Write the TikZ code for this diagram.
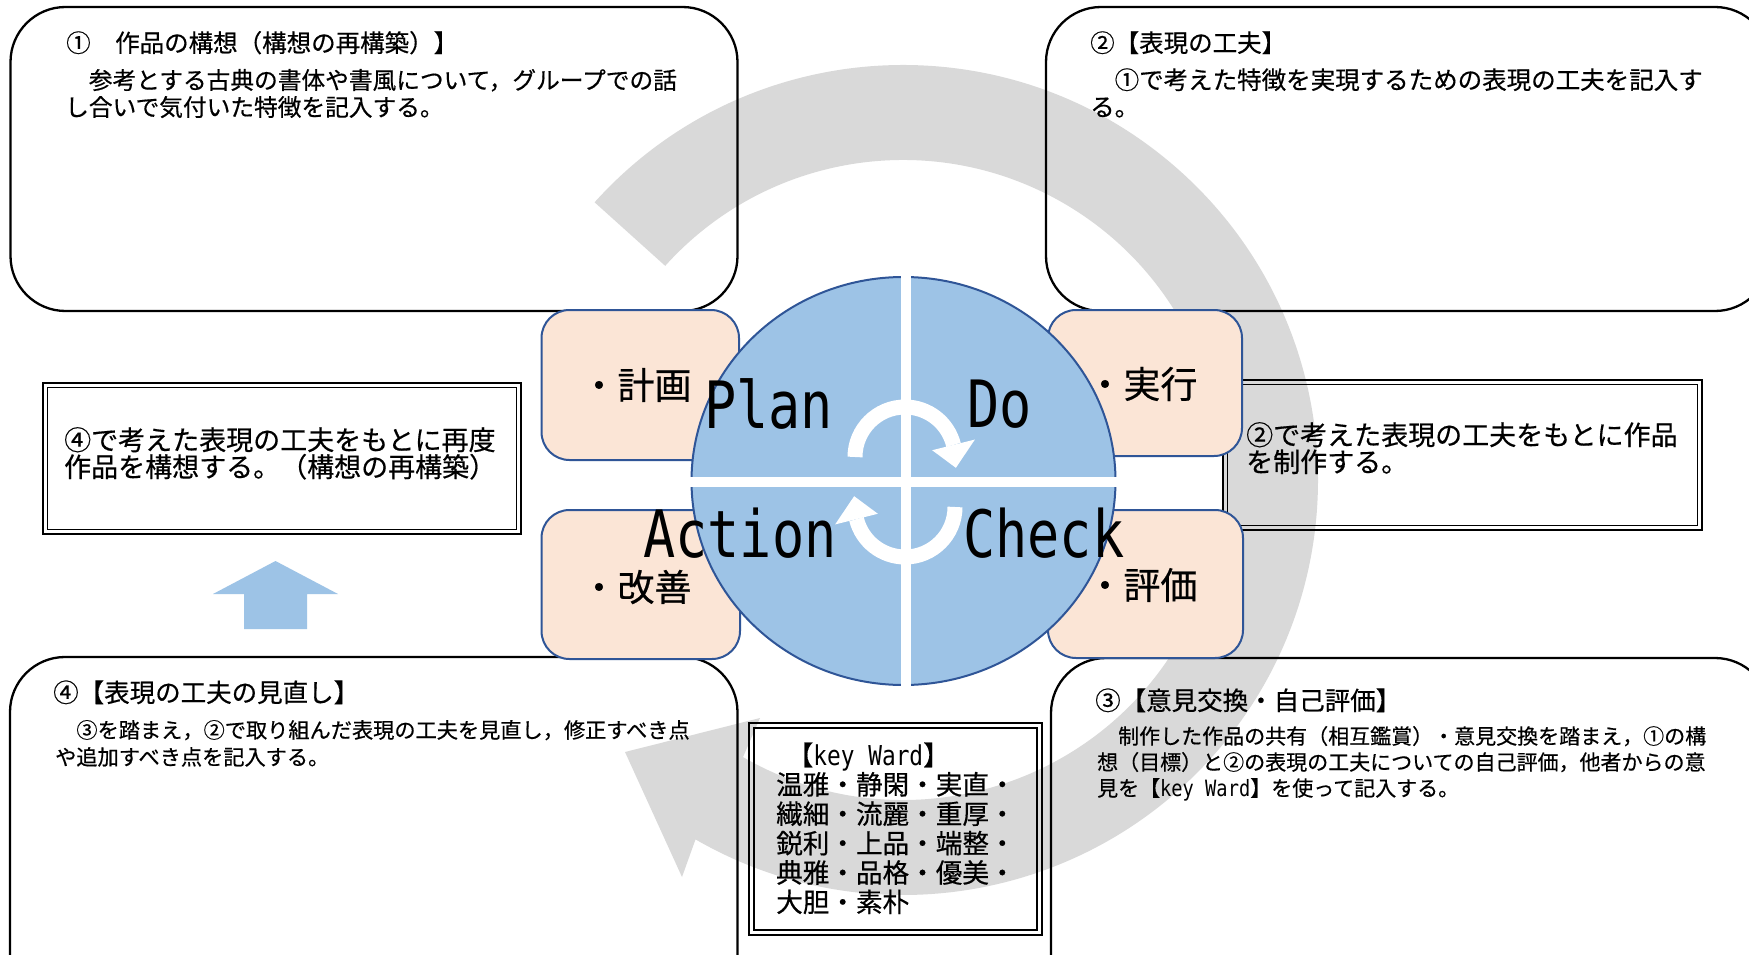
\documentclass[tikz,border=0pt]{standalone}
\usepackage{fontspec}
\newfontfamily\jp{Noto Sans CJK JP}[FakeBold=0.5]
\newfontfamily\pdcafont{DejaVu Sans Mono}
\definecolor{arcgray}{HTML}{D9D9D9}
\definecolor{pdcablue}{HTML}{9DC3E6}
\definecolor{edgeblue}{HTML}{2F5597}
\definecolor{beige}{HTML}{FBE5D6}
\newcommand\kwmono[1]{{\pdcafont\fontsize{#1}{#1}\selectfont\scalebox{1}[1.2]{key Ward}}}
\tikzset{
  jt/.style={anchor=base west, inner sep=0pt, font=\jp\fontsize{#1}{#1}\selectfont},
  lab/.style={anchor=center, inner sep=0pt, font=\jp\fontsize{37}{37}\selectfont},
  pdca/.style={anchor=base west, inner sep=0pt, font=\pdcafont\fontsize{53.5}{53.5}\selectfont},
  bigbox/.style={draw=black, line width=2.3pt, rounded corners=55pt},
  beigebox/.style={fill=beige, draw=edgeblue, line width=2pt, rounded corners=28pt},
  dblout/.style={draw=black, line width=2pt},
  dblin/.style={draw=black, line width=1.1pt},
  whitearc/.style={draw=white, line width=15pt},
}
\begin{document}
\begin{tikzpicture}[x=1pt,y=-1pt]
\useasboundingbox (0,0) rectangle (1749,955);
\clip (0,0) rectangle (1749,955);
\fill[white] (0,0) rectangle (1749,955);

% big gray circular arrow
\fill[arcgray] (594.6,202.3) arc[start angle=-138, end angle=120, radius=415]
  -- (682,877) -- (625,752) -- (760,718) -- (743,757.1)
  arc[start angle=120, end angle=-138, radius=320] -- cycle;

% rounded text boxes
\draw[bigbox] (10.5,7) rectangle (737.5,311);
\draw[bigbox] (1046,7) rectangle (1770,311);
\draw[bigbox] (10,657) rectangle (737.5,1010);
\draw[bigbox] (1051,658) rectangle (1770,1010);

% double-bordered boxes
\draw[dblout] (43,383) rectangle (521,534);
\draw[dblin] (47.5,387.5) rectangle (516.5,529.5);
\draw[dblout] (1223,380) rectangle (1702,530);
\draw[dblin] (1227.5,384.5) rectangle (1697.5,525.5);
\draw[dblout] (749,723) rectangle (1042,935);
\draw[dblin] (754,728) rectangle (1037,930);

% beige label boxes
\draw[beigebox] (541.5,310) rectangle (739,460);
\draw[beigebox] (541.5,510) rectangle (740,659);
\draw[beigebox] (1048,310) rectangle (1242,456);
\draw[beigebox] (1048,510) rectangle (1243,658);

% PDCA disc
\draw[fill=pdcablue, draw=edgeblue, line width=2pt] (903.5,481) ellipse [x radius=212, y radius=204];
\draw[white, line width=10pt] (905.6,272) -- (905.6,690);
\draw[white, line width=10pt] (686,482) -- (1121,482);

% small white cycle arrows
\begin{scope}[shift={(905,457)}]
  \draw[whitearc] (180:50) arc[start angle=180, end angle=346, radius=50];
  \fill[white] (346:28) -- (346:72) -- (12:52) -- cycle;
\end{scope}
\begin{scope}[shift={(905,507)}]
  \draw[whitearc] (0:50) arc[start angle=0, end angle=166, radius=50];
  \fill[white] (166:28) -- (166:72) -- (192:52) -- cycle;
\end{scope}

% up arrow
\fill[pdcablue] (275.5,561) -- (338,594) -- (307,594) -- (307,629) -- (244,629) -- (244,594) -- (213,594) -- cycle;

% labels in beige boxes
\node[lab] (keikaku) at (636,385) {・計画};
\node[lab] (kaizen) at (636,587) {・改善};
\node[lab] (jikko) at (1142,384) {・実行};
\node[lab] (hyoka) at (1142,585) {・評価};

% PDCA words
\node[pdca] (plan) at (704,428) {\scalebox{1}[1.22]{Plan}};
\node[pdca] (do) at (967,427) {\scalebox{1}[1.22]{Do}};
\node[pdca] (action) at (643,557) {\scalebox{1}[1.22]{Action}};
\node[pdca] (check) at (963,557) {\scalebox{1}[1.22]{Check}};

% box 1
\node[jt=24.5] (h1) at (66,52) {①　作品の構想（構想の再構築）】};
\node[jt=23.7] (b1a) at (65,89) {　参考とする古典の書体や書風について，グループでの話};
\node[jt=23.7] (b1b) at (65,116) {し合いで気付いた特徴を記入する。};
% box 2
\node[jt=24.5] (h2) at (1090,52) {②【表現の工夫】};
\node[jt=24.5] (b2a) at (1090,89) {　①で考えた特徴を実現するための表現の工夫を記入す};
\node[jt=24.5] (b2b) at (1090,116) {る。};
% box 3
\node[jt=25.5] (h3) at (1095,710) {③【意見交換・自己評価】};
\node[jt=21] (b3a) at (1097,744) {　制作した作品の共有（相互鑑賞）・意見交換を踏まえ，①の構};
\node[jt=21] (b3b) at (1097,770) {想（目標）と②の表現の工夫についての自己評価，他者からの意};
\node[jt=21] (b3c) at (1097,796) {見を【\kwmono{18.7}】を使って記入する。};
% box 4
\node[jt=25.5] (h4) at (53,702) {④【表現の工夫の見直し】};
\node[jt=21.2] (b4a) at (55,738) {　③を踏まえ，②で取り組んだ表現の工夫を見直し，修正すべき点};
\node[jt=21.2] (b4b) at (55,765) {や追加すべき点を記入する。};
% left double box
\node[jt=27] (l1) at (64,450) {④で考えた表現の工夫をもとに再度};
\node[jt=27] (l2) at (64,477) {作品を構想する。（構想の再構築）};
% right double box
\node[jt=27] (r1) at (1246,445) {②で考えた表現の工夫をもとに作品};
\node[jt=27] (r2) at (1246,472) {を制作する。};
% key ward box
\node[jt=26.6] (k0) at (760,765) {　【\kwmono{22.8}】};
\node[jt=26.6] (k1) at (776,794.4) {温雅・静閑・実直・};
\node[jt=26.6] (k2) at (776,823.8) {繊細・流麗・重厚・};
\node[jt=26.6] (k3) at (776,853.2) {鋭利・上品・端整・};
\node[jt=26.6] (k4) at (776,882.6) {典雅・品格・優美・};
\node[jt=26.6] (k5) at (776,912) {大胆・素朴};
\end{tikzpicture}
\end{document}
